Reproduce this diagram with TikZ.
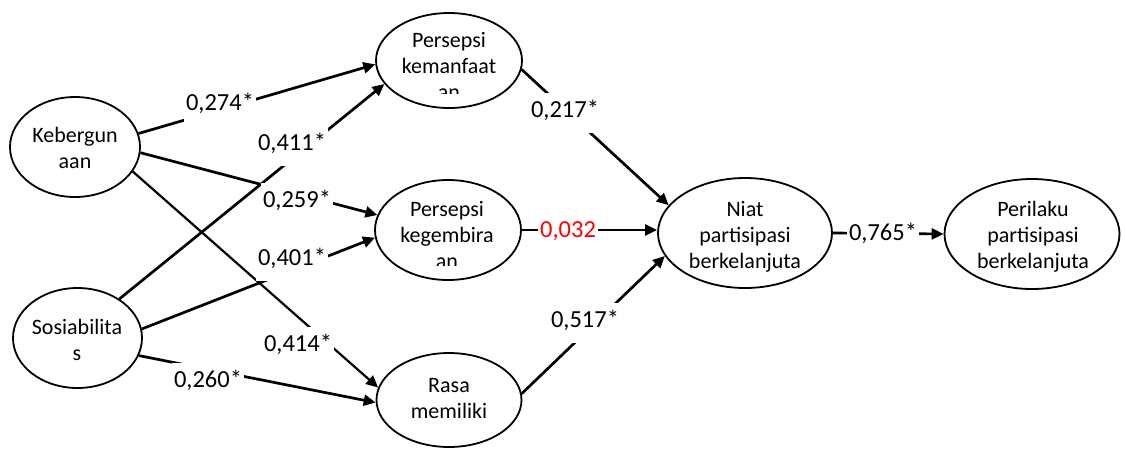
\documentclass[tikz,border=0pt]{standalone}
\usepackage{fontspec}
\setmainfont{Carlito}
\usetikzlibrary{arrows.meta,shapes.geometric}
\begin{document}
\begin{tikzpicture}[x=1pt,y=-1pt,
  oval/.style={draw,ellipse,line width=1.8pt,inner sep=0pt,fill=white},
  ovaltext/.style={font=\fontsize{22}{26}\selectfont,align=center,inner sep=0pt},
  conn/.style={line width=2.7pt,-{Triangle[length=12pt,width=11pt]}},
  coef/.style={fill=white,font=\fontsize{24.5}{28}\selectfont,inner xsep=2pt,inner ysep=0pt,text height=24pt,text depth=16pt,anchor=base}
]
\useasboundingbox (0,0) rectangle (1125,448);
% ovals
\node[oval,minimum width=130pt,minimum height=100pt] (keb) at (75,147) {};
\node[oval,minimum width=129pt,minimum height=100pt] (sos) at (77.5,338) {};
\node[oval,minimum width=146pt,minimum height=95pt] (pk) at (449,60.5) {};
\node[oval,minimum width=146pt,minimum height=100pt] (pkeg) at (448,230) {};
\node[oval,minimum width=145pt,minimum height=94pt] (rm) at (449,400) {};
\node[oval,minimum width=174pt,minimum height=110pt] (niat) at (745,233) {};
\node[oval,minimum width=175pt,minimum height=110pt] (per) at (1032,234) {};
% connectors
\draw[conn] (keb.12.5) -- (pk.183.5);
\draw[conn] (sos.43) -- (pk.200);
\draw[conn] (keb.-5.3) -- (pkeg.168.4);
\draw[conn] (sos.8.8) -- (pkeg.186.3);
\draw[conn,line width=2.2pt] (keb.-23.3) -- (rm.170.5);
\draw[conn] (sos.-16.4) -- (rm.182.4);
\draw[conn] (pk.-7.4) -- (niat.160.7);
\draw[conn] (pkeg.east) -- (pkeg.east -| niat.west);
\draw[conn] (rm.5.6) -- (niat.196);
\draw[conn] (niat.east) -- (per.west);
% coefficients
\node[coef] (l274) at (220,110) {0,274*};
\node[coef] (l411) at (292,150) {0,411*};
\node[coef] (l259) at (297,207) {0,259*};
\node[coef] (l401) at (292,265) {0,401*};
\node[coef] (l414) at (298,351) {0,414*};
\node[coef] (l260) at (208,387) {0,260*};
\node[coef] (l217) at (565,117) {0,217*};
\node[coef,text=red] (l032) at (568,237) {0,032};
\node[coef] (l517) at (585,327) {0,517*};
\node[coef] (l765) at (883,240) {0,765*};
% texts
\node[ovaltext] (tkeb) at (75,148) {Kebergun\\aan};
\node[ovaltext] (tsos) at (77,339.5) {Sosiabilita\\s};
\begin{scope}
\clip (376,0) rectangle (522,93);
\node[ovaltext] (tpk) at (449,66) {Persepsi\\kemanfaat\\an};
\end{scope}
\begin{scope}
\clip (375,180) rectangle (522,265);
\node[ovaltext] (tpkeg) at (447,235.5) {Persepsi\\kegembira\\an};
\end{scope}
\node[ovaltext] (trm) at (449,399) {Rasa\\memiliki};
\node[ovaltext] (tniat) at (745,237) {Niat\\partisipasi\\berkelanjuta};
\node[ovaltext] (tper) at (1033,237) {Perilaku\\partisipasi\\berkelanjuta};
\end{tikzpicture}
\end{document}
